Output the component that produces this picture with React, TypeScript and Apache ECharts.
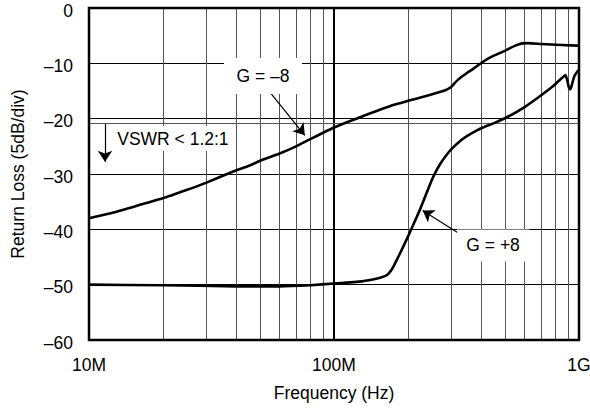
import React, { useEffect, useRef } from "react";
import * as echarts from "echarts";

// Frequencies in Hz, return loss in dB
const gMinus8: [number, number][] = [
  [1e7, -38.0], [1.2e7, -37.2], [1.5e7, -36.0], [2e7, -34.4], [2.5e7, -32.9],
  [3e7, -31.6], [3.9e7, -29.5], [4.5e7, -28.5], [5e7, -27.6], [6e7, -26.3],
  [7e7, -25.0], [8e7, -23.7], [1e8, -21.6], [1.3e8, -19.6], [1.7e8, -17.7],
  [2.2e8, -16.3], [2.7e8, -15.2], [2.9e8, -14.7], [3.02e8, -14.2], [3.12e8, -13.5],
  [3.22e8, -12.9], [3.35e8, -12.3], [3.5e8, -11.7], [3.7e8, -11.0], [4e8, -9.9],
  [4.4e8, -8.8], [5e8, -7.7], [5.25e8, -7.2], [5.5e8, -6.8], [5.7e8, -6.55],
  [5.9e8, -6.4], [6.2e8, -6.35], [7e8, -6.5], [8.5e8, -6.7], [1e9, -6.8],
];

const gPlus8: [number, number][] = [
  [1e7, -50.0], [2e7, -50.1], [4e7, -50.3], [6e7, -50.3], [8e7, -50.1],
  [1e8, -49.8], [1.3e8, -49.4], [1.5e8, -48.9], [1.6e8, -48.5], [1.65e8, -48.2],
  [1.7e8, -47.6], [1.75e8, -46.7], [1.8e8, -45.6], [1.9e8, -43.5], [2e8, -41.4],
  [2.1e8, -39.3], [2.25e8, -36.3], [2.35e8, -34.2], [2.5e8, -31.2], [2.6e8, -29.6],
  [2.75e8, -27.8], [2.9e8, -26.4], [3e8, -25.6], [3.3e8, -23.9], [3.5e8, -23.1],
  [3.8e8, -22.2], [4.1e8, -21.5], [4.5e8, -20.8], [5.1e8, -19.7], [6e8, -17.9],
  [6.9e8, -16.0], [7.8e8, -14.2], [8.3e8, -13.1], [8.6e8, -12.5], [8.8e8, -12.1],
  [8.95e8, -13.0], [9.05e8, -14.0], [9.1e8, -14.4], [9.2e8, -14.7], [9.3e8, -14.3],
  [9.4e8, -13.5], [9.5e8, -12.8], [9.6e8, -12.2], [9.8e8, -11.6], [1e9, -11.2],
];

const xTickLabels: Record<number, string> = { 7: "10M", 8: "100M", 9: "1G" };
const yTickValues = [0, -10, -20, -30, -40, -50, -60];
const vswrLevel = -20.8;

const minorFreqs: number[] = [];
[1e7, 1e8].forEach((d) => {
  for (let k = 2; k <= 9; k++) minorFreqs.push(d * k);
});

const FONT = "Liberation Sans, Arial, Helvetica, sans-serif";
const FS = 17.5;

export default function App() {
  const ref = useRef<HTMLDivElement>(null);
  useEffect(() => {
    if (!ref.current) return;
    const chart = echarts.init(ref.current, undefined, { renderer: "svg" });
    const labelBox = (name: string, coord: [number, number], size: [number, number]) => ({
      name,
      coord,
      symbol: "rect",
      symbolSize: size,
      itemStyle: { color: "#fff" },
      label: {
        show: true,
        position: "inside",
        formatter: "{b}",
        color: "#000",
        fontSize: FS,
        fontFamily: FONT,
      },
    });
    chart.setOption({
      animation: false,
      textStyle: { fontFamily: FONT },
      grid: {
        left: 89,
        right: 11,
        top: 8,
        bottom: 69,
        show: true,
        borderColor: "#000",
        borderWidth: 2.5,
        z: 10,
        outerBoundsMode: "none",
        containLabel: false,
      },
      xAxis: {
        type: "log",
        logBase: 10,
        min: 1e7,
        max: 1e9,
        name: "Frequency (Hz)",
        nameLocation: "middle",
        nameGap: 44,
        nameTextStyle: { color: "#000", fontSize: FS, fontFamily: FONT },
        axisLine: { show: false },
        axisTick: { show: false },
        axisLabel: {
          color: "#000",
          fontSize: FS,
          fontFamily: FONT,
          margin: 16,
          formatter: (v: number) => xTickLabels[Math.round(Math.log10(v))] ?? "",
        },
        splitLine: { show: true, lineStyle: { color: "#000", width: 2 } },
      },
      yAxis: {
        type: "value",
        min: -60,
        max: 0,
        interval: 10,
        name: "Return Loss (5dB/div)",
        nameLocation: "middle",
        nameGap: 62,
        nameTextStyle: { color: "#000", fontSize: FS, fontFamily: FONT },
        axisLine: { show: false },
        axisTick: { show: false },
        axisLabel: {
          color: "#000",
          fontSize: FS,
          fontFamily: FONT,
          margin: 16,
          formatter: (v: number) =>
            yTickValues.includes(v)
              ? "{v|" + (v < 0 ? "\u2013" + Math.abs(v) : String(v)) + "}"
              : "",
          rich: {
            v: {
              color: "#000",
              fontSize: FS,
              fontFamily: FONT,
              padding: [5, 0, 0, 0],
            },
          },
        },
        splitLine: { show: true, lineStyle: { color: "#000", width: 1 } },
      },
      series: [
        {
          type: "line",
          name: "grid",
          data: [[1e7, -60]],
          showSymbol: false,
          symbol: "none",
          lineStyle: { opacity: 0 },
          silent: true,
          z: 1,
          markLine: {
            silent: true,
            symbol: ["none", "none"],
            label: { show: false },
            lineStyle: { color: "#555", width: 1, type: "solid" },
            data: [
              ...minorFreqs.map((f) => ({ xAxis: f })),
              { yAxis: vswrLevel, lineStyle: { color: "#555", width: 1, type: "solid" } },
            ],
          },
        },
        {
          type: "line",
          name: "G = -8",
          data: gMinus8,
          showSymbol: false,
          symbol: "none",
          smooth: 0.15,
          lineStyle: { color: "#000", width: 2.6, join: "round" },
          z: 5,
          markPoint: {
            silent: true,
            data: [
              labelBox("G = \u20138", [5.13e7, -12.3], [78, 36]),
              labelBox("VSWR < 1.2:1", [2.2e7, -23.6], [122, 25]),
              labelBox("G = +8", [4.46e8, -42.9], [72, 32]),
            ],
          },
        },
        {
          type: "line",
          name: "G = +8",
          data: gPlus8,
          showSymbol: false,
          symbol: "none",
          smooth: 0.15,
          lineStyle: { color: "#000", width: 2.6, join: "round" },
          z: 5,
          markLine: {
            silent: true,
            symbol: ["none", "arrow"],
            symbolSize: 11,
            label: { show: false },
            lineStyle: { color: "#000", width: 1.2, type: "solid" },
            data: [
              [{ coord: [5.38e7, -14.8] }, { coord: [7.6e7, -23.0] }],
              [{ coord: [3.39e8, -41.3] }, { coord: [2.3e8, -36.6] }],
              [{ coord: [1.162e7, -20.9] }, { coord: [1.162e7, -27.8] }],
            ],
          },
        },
      ],
    });
    return () => chart.dispose();
  }, []);
  return (
    <div
      ref={ref}
      style={{ position: "fixed", left: 0, top: 0, width: 590, height: 409, background: "#fff" }}
    />
  );
}
